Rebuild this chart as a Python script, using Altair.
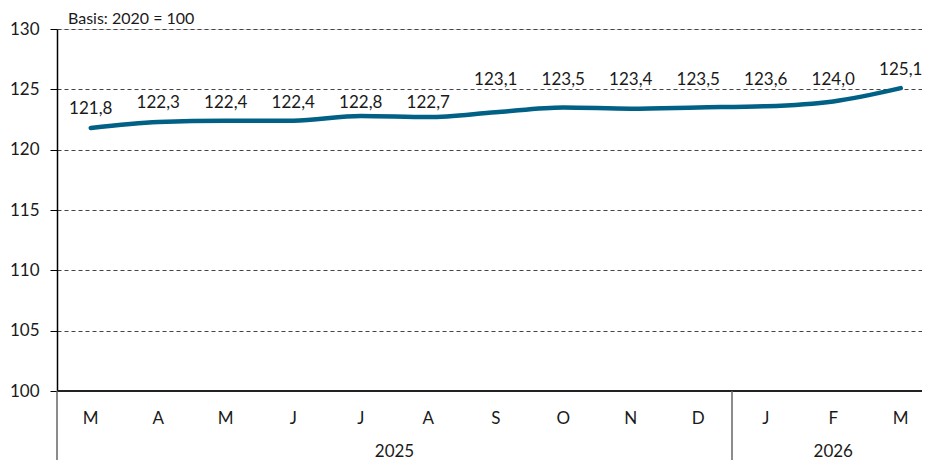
import altair as alt
import pandas as pd

months = ["M", "A", "M", "J", "J", "A", "S", "O", "N", "D", "J", "F", "M"]
values = [121.8, 122.3, 122.4, 122.4, 122.8, 122.7, 123.1, 123.5, 123.4, 123.5, 123.6, 124.0, 125.1]
labels = ["121,8", "122,3", "122,4", "122,4", "122,8", "122,7", "123,1", "123,5", "123,4", "123,5", "123,6", "124,0", "125,1"]
years = ["2025", "2026"]
year_counts = [10, 3]
y_ticks = [100, 105, 110, 115, 120, 125, 130]

FONT = "Lato"
TXT = "#1a1a1a"
LINE = "#006085"

df = pd.DataFrame({"i": list(range(len(months))), "m": months, "v": values, "lab": labels})

ydf = []
start = 0
for y, c in zip(years, year_counts):
    ydf.append({"year": y, "center": start + (c - 1) / 2, "sep": start - 0.5})
    start += c
ydf = pd.DataFrame(ydf)

W, H = 865, 362
BOTTOM = 69
xscale = alt.Scale(domain=[-0.5, -0.5 + W / 67.5], nice=False, zero=False)
yscale = alt.Scale(domain=[100, 130], nice=False, zero=False)

base = alt.Chart(df)

line = base.mark_line(color=LINE, strokeWidth=4.5, interpolate="monotone", strokeCap="round").encode(
    x=alt.X("i:Q", scale=xscale, axis=None),
    y=alt.Y("v:Q", scale=yscale,
            axis=alt.Axis(values=y_ticks, title=None, tickSize=7, tickColor="#000", domainColor="#000",
                          domainWidth=1.5, labelFont=FONT, labelFontSize=17, labelColor=TXT, labelPadding=11,
                          grid=True, gridColor="#444", gridDash=[4, 3], gridWidth=1)),
)

text = base.transform_calculate(
    ly="datum.v < 123 ? min(datum.v + 1.55, 123.83) : max(datum.v + 1.5, 125.81)"
).mark_text(font=FONT, fontSize=17, color=TXT, baseline="middle").encode(
    x=alt.X("i:Q", scale=xscale),
    y=alt.Y("ly:Q", scale=yscale),
    text="lab:N",
)

month_txt = base.mark_text(font=FONT, fontSize=17, color=TXT, baseline="middle").encode(
    x=alt.X("i:Q", scale=xscale),
    y=alt.value(H + 28),
    text="m:N",
)

yb = alt.Chart(ydf)
year_txt = yb.mark_text(font=FONT, fontSize=17, color=TXT, baseline="alphabetic").encode(
    x=alt.X("center:Q", scale=xscale),
    y=alt.value(H + 66),
    text="year:N",
)
seps = yb.transform_filter("datum.sep > 0").mark_rule(color="#666", strokeWidth=1.5).encode(
    x=alt.X("sep:Q", scale=xscale),
    y=alt.value(H),
    y2=alt.value(H + BOTTOM),
)
left_line = alt.Chart(pd.DataFrame({"x": [-0.5]})).mark_rule(color="#666", strokeWidth=1.5).encode(
    x=alt.X("x:Q", scale=xscale),
    y=alt.value(H),
    y2=alt.value(H + BOTTOM),
)
base_line = alt.Chart(pd.DataFrame({"y": [100]})).mark_rule(color="#222", strokeWidth=2).encode(
    y=alt.Y("y:Q", scale=yscale),
    x=alt.value(0),
    x2=alt.value(W),
)
caption = alt.Chart(pd.DataFrame({"t": ["Basis: 2020 = 100"]})).mark_text(
    font=FONT, fontSize=16, color=TXT, align="left", baseline="alphabetic"
).encode(x=alt.value(11), y=alt.value(-5), text="t:N")

chart = alt.layer(line, base_line, left_line, seps, text, month_txt, year_txt, caption).properties(
    width=W, height=H,
    autosize=alt.AutoSizeParams(type="none"),
    padding={"left": 49, "top": 21, "right": 0, "bottom": BOTTOM},
).configure_view(stroke=None).configure(background="white")

chart.save("out.html", embed_options={"renderer": "svg", "actions": False})
